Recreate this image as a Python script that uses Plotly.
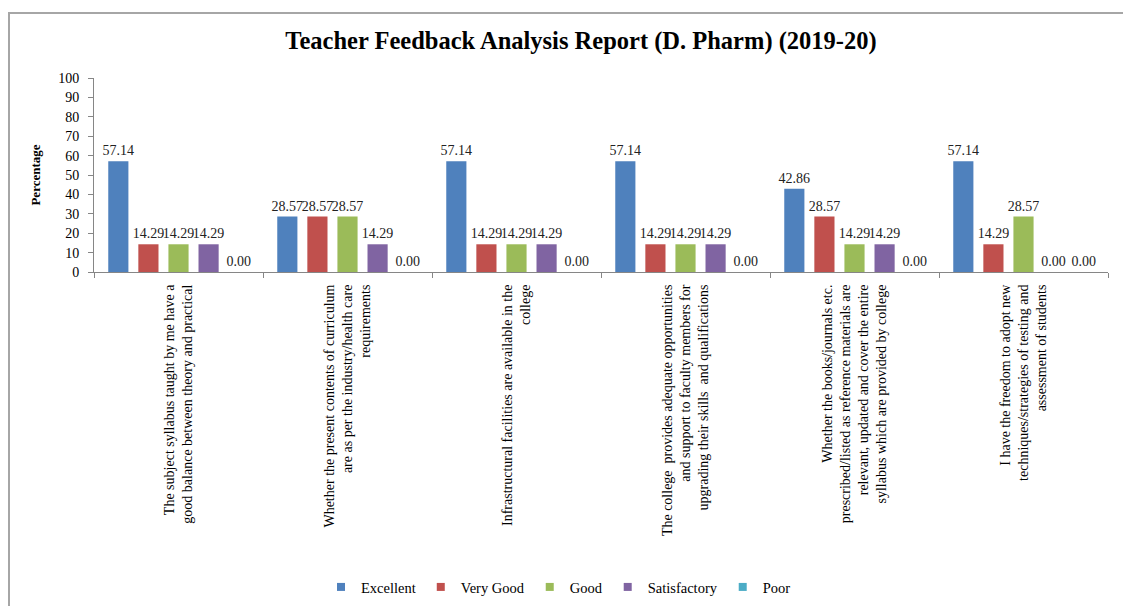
import plotly.graph_objects as go

questions = [
    "The subject syllabus taught by me have a<br>good balance between theory and practical",
    "Whether the present contents of curriculum<br>are as per the industry/health care<br>requirements",
    "Infrastructural facilities are available in the<br>college",
    "The college  provides adequate opportunities<br>and support to faculty members for<br>upgrading their skills  and qualifications",
    "Whether the books/journals etc.<br>prescribed/listed as reference materials are<br>relevant, updated and cover the entire<br>syllabus which are provided by college",
    "I have the freedom to adopt new<br>techniques/strategies of testing and<br>assessment of students",
]

excellent = [57.14, 28.57, 57.14, 57.14, 42.86, 57.14]
very_good = [14.29, 28.57, 14.29, 14.29, 28.57, 14.29]
good = [14.29, 28.57, 14.29, 14.29, 14.29, 28.57]
satisfactory = [14.29, 14.29, 14.29, 14.29, 14.29, 0.00]
poor = [0.00, 0.00, 0.00, 0.00, 0.00, 0.00]

series = [
    ("Excellent", excellent, "#4F81BD"),
    ("Very Good", very_good, "#C0504D"),
    ("Good", good, "#9BBB59"),
    ("Satisfactory", satisfactory, "#8064A2"),
    ("Poor", poor, "#4BACC6"),
]

serif = "Liberation Serif, Times New Roman, serif"

fig = go.Figure()
for name, vals, color in series:
    fig.add_trace(go.Bar(
        name=name,
        x=questions,
        y=vals,
        marker=dict(color=color, line=dict(width=0)),
        texttemplate="%{y:.2f}",
        textposition="outside",
        constraintext="none",
        textfont=dict(family=serif, size=14, color="#222222"),
        cliponaxis=False,
        showlegend=False,
    ))
    # small square legend key for the series
    fig.add_trace(go.Scatter(
        name=name,
        x=[None],
        y=[None],
        mode="markers",
        marker=dict(symbol="square", size=8, color=color),
        showlegend=True,
        hoverinfo="skip",
    ))

# Plot-area bounds in pixels, used to place the frame and legend
plot_top, plot_bottom = 78, 272
plot_h = plot_bottom - plot_top
plot_left, plot_right = 94, 1108
plot_w = plot_right - plot_left


def px_to_paper_y(py):
    return (plot_bottom - py) / plot_h


def px_to_paper_x(px):
    return (px - plot_left) / plot_w


fig.update_layout(
    width=1123,
    height=606,
    margin=dict(l=plot_left, r=1123 - plot_right, t=plot_top, b=606 - plot_bottom, pad=0,
                autoexpand=False),
    paper_bgcolor="white",
    plot_bgcolor="white",
    barmode="group",
    bargap=0.11,
    bargroupgap=0.33,
    title=dict(
        text="<b>Teacher Feedback Analysis Report (D. Pharm) (2019-20)</b>",
        font=dict(family=serif, size=24.5, color="black"),
        x=581 / 1123, xanchor="center",
        y=1 - 40 / 606, yanchor="middle",
    ),
    font=dict(family=serif, color="black"),
    showlegend=True,
    legend=dict(
        orientation="h",
        x=px_to_paper_x(321), xanchor="left",
        y=px_to_paper_y(587), yanchor="middle",
        font=dict(family=serif, size=14.5, color="black"),
        itemwidth=30,
        traceorder="normal",
    ),
    yaxis=dict(
        range=[0, 100],
        dtick=10,
        automargin=False,
        showgrid=False,
        zeroline=False,
        showline=True,
        linecolor="#868686",
        linewidth=1,
        ticks="outside",
        ticklen=5,
        tickcolor="#868686",
        ticklabelstandoff=6,
        tickfont=dict(family=serif, size=14, color="black"),
        title=dict(text="<b>Percentage</b>", font=dict(family=serif, size=13, color="black"), standoff=14),
    ),
    xaxis=dict(
        automargin=False,
        showgrid=False,
        showline=True,
        linecolor="#868686",
        linewidth=1,
        ticks="outside",
        tickson="boundaries",
        ticklen=5,
        tickcolor="#868686",
        tickangle=-90,
        ticklabelstandoff=6,
        tickfont=dict(family=serif, size=14, color="black"),
    ),
    shapes=[
        dict(
            type="rect", xref="paper", yref="paper",
            x0=px_to_paper_x(9), x1=px_to_paper_x(1140),
            y0=px_to_paper_y(640), y1=px_to_paper_y(13),
            line=dict(color="#A6A6A6", width=2),
            fillcolor="rgba(0,0,0,0)",
            layer="below",
        )
    ],
)

fig.write_html("out.html")
